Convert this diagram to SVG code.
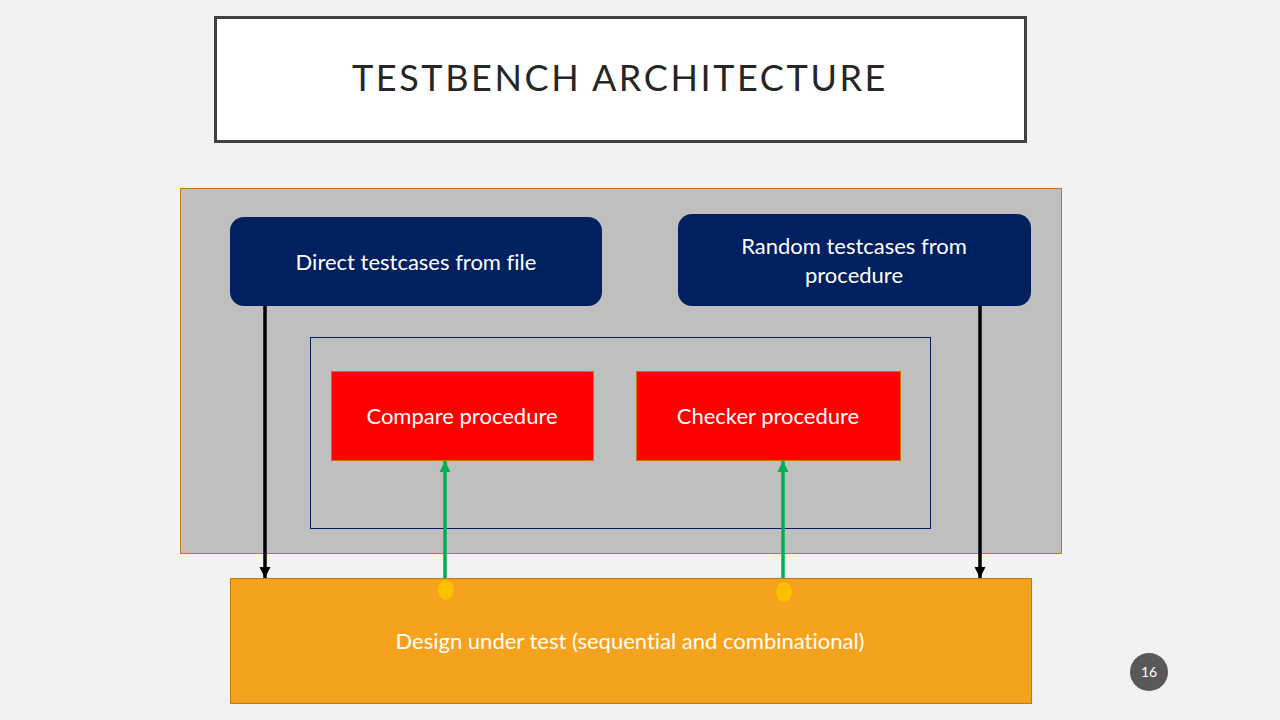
<svg xmlns="http://www.w3.org/2000/svg" width="1280" height="720" viewBox="0 0 1280 720">
<style>
text{font-family:"Lato","Open Sans","Liberation Sans",sans-serif;text-anchor:middle;font-variant-ligatures:none}
.lbl{fill:#fff;font-size:22px}
.blue{fill:#002060}
.red{fill:#ff0000;stroke:#c07a10;stroke-width:1}
.blk{stroke:#000;stroke-width:3.5;fill:none}
.grn{stroke:#00b050;stroke-width:3.5;fill:none}
</style>
<defs>
<marker id="ab" viewBox="0 0 10 10" refX="10" refY="5" markerWidth="3.2" markerHeight="3.2" orient="auto" markerUnits="strokeWidth"><path d="M0,0 L10,5 L0,10 z" fill="#000"/></marker>
<marker id="ag" viewBox="0 0 10 10" refX="10" refY="5" markerWidth="3.2" markerHeight="3.2" orient="auto" markerUnits="strokeWidth"><path d="M0,0 L10,5 L0,10 z" fill="#00b050"/></marker>
</defs>
<rect width="1280" height="720" fill="#f2f2f2"/>
<g id="title">
<rect x="215.5" y="17.5" width="810" height="124" fill="#fff" stroke="#404040" stroke-width="3"/>
<text x="620" y="91" font-size="36" letter-spacing="2.6" fill="#262626">TESTBENCH ARCHITECTURE</text>
</g>
<g id="container">
<rect x="180.5" y="188.5" width="881" height="365" fill="#bfbfbf" stroke="#c07a10" stroke-width="1"/>
</g>
<g id="inner">
<rect x="310.5" y="337.5" width="620" height="191" fill="none" stroke="#002060" stroke-width="1"/>
</g>
<g id="direct">
<rect class="blue" x="230" y="217" width="372" height="89" rx="14"/>
<text class="lbl" x="416" y="270">Direct testcases from file</text>
</g>
<g id="random">
<rect class="blue" x="678" y="214" width="353" height="92" rx="14"/>
<text class="lbl" x="854" y="254">Random testcases from</text>
<text class="lbl" x="854" y="283">procedure</text>
</g>
<g id="compare">
<rect class="red" x="331.5" y="371.5" width="262" height="89"/>
<text class="lbl" x="462" y="424">Compare procedure</text>
</g>
<g id="checker">
<rect class="red" x="636.5" y="371.5" width="264" height="89"/>
<text class="lbl" x="768" y="424">Checker procedure</text>
</g>
<g id="dut">
<rect x="230.5" y="578.5" width="801" height="125" fill="#f5a31e" stroke="#c07a10" stroke-width="1"/>
<text class="lbl" x="630" y="649">Design under test (sequential and combinational)</text>
</g>
<g id="connectors">
<line class="blk" x1="265" y1="306" x2="265" y2="578" marker-end="url(#ab)"/>
<line class="blk" x1="980" y1="306" x2="980" y2="578" marker-end="url(#ab)"/>
<line class="grn" x1="445" y1="578" x2="445" y2="461" marker-end="url(#ag)"/>
<line class="grn" x1="783" y1="578" x2="783" y2="461" marker-end="url(#ag)"/>
<ellipse cx="446" cy="590" rx="8" ry="10" fill="#ffc000"/>
<ellipse cx="784" cy="592" rx="8" ry="10" fill="#ffc000"/>
</g>
<g id="page">
<circle cx="1149" cy="672" r="19" fill="#595959"/>
<text x="1149" y="677" font-size="14" fill="#fff">16</text>
</g>
</svg>
